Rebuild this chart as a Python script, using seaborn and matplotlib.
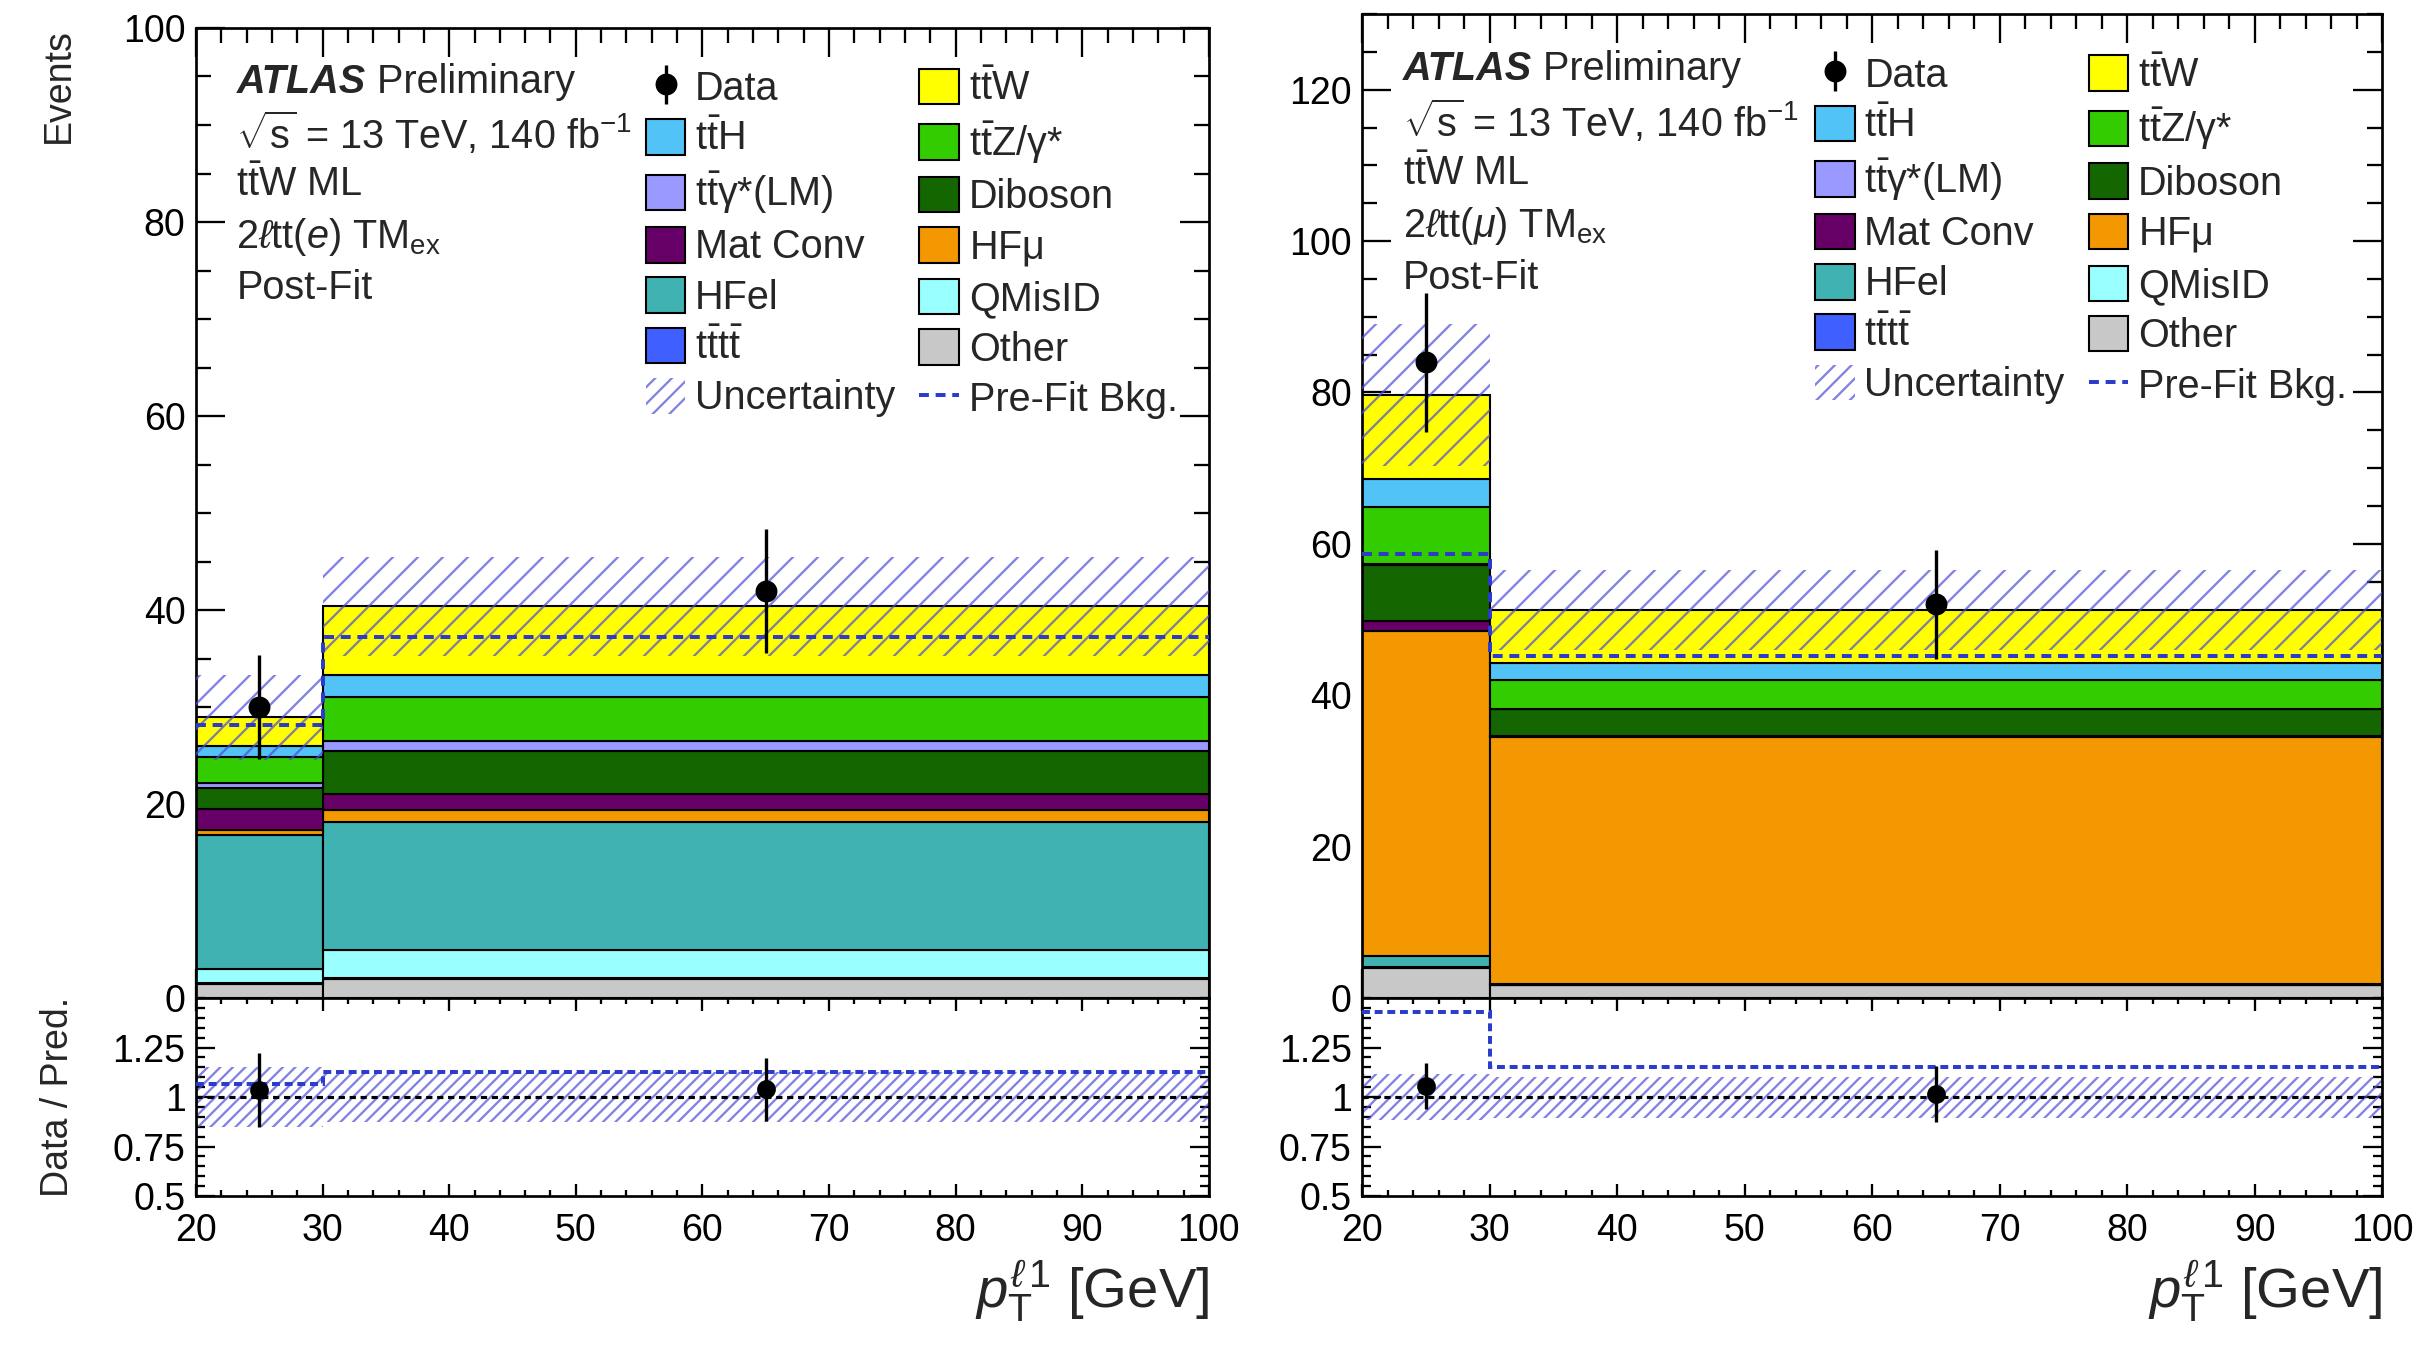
import matplotlib
matplotlib.use("Agg")
import matplotlib.pyplot as plt
from matplotlib.lines import Line2D
from matplotlib.patches import Patch
from matplotlib.ticker import MultipleLocator
import numpy as np
import pandas as pd
import seaborn as sns

BIN_EDGES = [20, 30, 100]
BIN_CENTRES = [25, 65]

# stack order, top of the stack first
SAMPLES = ["ttW", "ttH", "ttZ", "ttgam", "Diboson", "MatConv",
           "HFmu", "HFel", "QMisID", "tttt", "Other"]

# 2l tt(e) region, post-fit yields per bin
E_TTW = [3.0, 7.1]
E_TTH = [1.1, 2.3]
E_TTZ = [2.7, 4.5]
E_TTGAM = [0.5, 1.0]
E_DIBOSON = [2.2, 4.5]
E_MATCONV = [2.1, 1.6]
E_HFMU = [0.5, 1.3]
E_HFEL = [13.9, 13.1]
E_QMISID = [1.4, 2.9]
E_TTTT = [0.05, 0.1]
E_OTHER = [1.5, 2.0]
E_DATA = [30, 42]
E_DATA_ERR = [5.4, 6.4]
E_UNC = [4.4, 5.1]
E_PREFIT = [28.2, 37.2]

# 2l tt(mu) region
M_TTW = [11.1, 7.0]
M_TTH = [3.7, 2.2]
M_TTZ = [7.5, 3.8]
M_TTGAM = [0.1, 0.1]
M_DIBOSON = [7.5, 3.5]
M_MATCONV = [1.3, 0.1]
M_HFMU = [42.9, 32.7]
M_HFEL = [1.5, 0.1]
M_QMISID = [0.0, 0.0]
M_TTTT = [0.05, 0.05]
M_OTHER = [4.0, 1.7]
M_DATA = [84, 52]
M_DATA_ERR = [9.2, 7.2]
M_UNC = [9.4, 5.3]
M_PREFIT = [58.7, 45.2]

COLORS = {
    "ttW": "#ffff00", "ttH": "#52c3f7", "ttZ": "#33cc00", "ttgam": "#9999ff",
    "Diboson": "#136600", "MatConv": "#660066", "HFmu": "#f39800",
    "HFel": "#40b2b2", "QMisID": "#99ffff", "tttt": "#3f5fff", "Other": "#c8c8c8",
}
LABELS = {
    "ttW": r"$\mathrm{t\bar{t}W}$", "ttH": r"$\mathrm{t\bar{t}H}$",
    "ttZ": r"$\mathrm{t\bar{t}Z/\gamma}$*", "ttgam": r"$\mathrm{t\bar{t}\gamma}$*(LM)",
    "Diboson": "Diboson", "MatConv": "Mat Conv", "HFmu": r"HF$\mathrm{\mu}$",
    "HFel": "HFel", "QMisID": "QMisID", "tttt": r"$\mathrm{t\bar{t}t\bar{t}}$",
    "Other": "Other",
}
PREFIT_COLOR = "#2b3bcc"
HATCH_COLOR = (0.3, 0.3, 0.85, 0.7)

sns.set_theme(style="ticks")
plt.rcParams["font.family"] = ["Liberation Sans", "DejaVu Sans"]
plt.rcParams["mathtext.fontset"] = "custom"
plt.rcParams["mathtext.rm"] = "Liberation Sans"
plt.rcParams["mathtext.it"] = "Liberation Sans:italic"
plt.rcParams["mathtext.bf"] = "Liberation Sans:bold"
plt.rcParams["mathtext.sf"] = "Liberation Sans"
plt.rcParams["hatch.linewidth"] = 1.1
plt.rcParams["axes.linewidth"] = 1.3


def long_table(yields):
    rows = []
    for name in SAMPLES:
        for x, w in zip(BIN_CENTRES, yields[name]):
            rows.append({"pt": x, "events": w, "sample": name})
    return pd.DataFrame(rows)


def style_axis(ax, major_len, minor_len):
    ax.tick_params(which="both", direction="in", top=True, right=True,
                   width=1.1, labelsize=18, colors="black")
    ax.tick_params(which="major", length=major_len)
    ax.tick_params(which="minor", length=minor_len)
    for s in ax.spines.values():
        s.set_visible(True)
        s.set_color("black")


def draw_panel(ax, axr, yields, data, data_err, unc, prefit, ymax, channel):
    df = long_table(yields)
    sns.histplot(data=df, x="pt", weights="events", hue="sample",
                 hue_order=SAMPLES, palette=COLORS, bins=BIN_EDGES,
                 multiple="stack", element="bars", edgecolor="black",
                 linewidth=1.0, alpha=1, legend=False, ax=ax)

    total = np.sum([yields[s] for s in SAMPLES], axis=0)
    data = np.asarray(data, float)
    data_err = np.asarray(data_err, float)
    unc = np.asarray(unc, float)
    prefit = np.asarray(prefit, float)

    ax.stairs(total + unc, BIN_EDGES, baseline=total - unc, fill=True,
              facecolor="none", edgecolor=HATCH_COLOR, hatch="//", linewidth=0,
              zorder=3)
    ax.stairs(prefit, BIN_EDGES, baseline=None, color=PREFIT_COLOR,
              linewidth=1.9, linestyle=(0, (2.5, 1.7)), zorder=4)
    data_h = ax.errorbar(BIN_CENTRES, data, yerr=data_err, fmt="o", color="black",
                         ms=9.5, elinewidth=1.6, capsize=0, zorder=5)

    ax.set_xlim(20, 100)
    ax.set_ylim(0, ymax)
    ax.set_xlabel("")
    ax.set_ylabel("")
    ax.xaxis.set_major_locator(MultipleLocator(10))
    ax.xaxis.set_minor_locator(MultipleLocator(2))
    ax.yaxis.set_major_locator(MultipleLocator(20))
    ax.yaxis.set_minor_locator(MultipleLocator(5))
    style_axis(ax, 14, 7)
    ax.tick_params(labelbottom=False, pad=5)

    # text block
    atlas = ax.text(0.04, 0.944, "ATLAS", transform=ax.transAxes, fontsize=19,
                    fontweight="bold", fontstyle="italic", va="center")
    ax.annotate(" Preliminary", xy=(1, 0), xycoords=atlas, fontsize=19, va="bottom")
    lines = [r"$\sqrt{\mathrm{s}}$ = 13 TeV, 140 fb$^{-1}$",
             r"$\mathrm{t\bar{t}W}$ ML",
             r"2$\ell$tt(" + channel + r") TM$_{\mathrm{ex}}$",
             "Post-Fit"]
    for i, t in enumerate(lines):
        ax.text(0.04, 0.944 - 0.053 * (i + 1), t, transform=ax.transAxes,
                fontsize=19, va="center")

    # legend
    def box(name):
        return Patch(facecolor=COLORS[name], edgecolor="black", linewidth=1.0)
    col1 = [(data_h, "Data"), (box("ttH"), LABELS["ttH"]),
            (box("ttgam"), LABELS["ttgam"]), (box("MatConv"), LABELS["MatConv"]),
            (box("HFel"), LABELS["HFel"]), (box("tttt"), LABELS["tttt"]),
            (Patch(facecolor="none", edgecolor=HATCH_COLOR, hatch="///", linewidth=0),
             "Uncertainty")]
    col2 = [(box("ttW"), LABELS["ttW"]), (box("ttZ"), LABELS["ttZ"]),
            (box("Diboson"), LABELS["Diboson"]), (box("HFmu"), LABELS["HFmu"]),
            (box("QMisID"), LABELS["QMisID"]), (box("Other"), LABELS["Other"]),
            (Line2D([], [], color=PREFIT_COLOR, lw=1.9, ls=(0, (2.5, 1.7))),
             "Pre-Fit Bkg.")]
    entries = col1 + col2
    ax.legend([h for h, _ in entries], [l for _, l in entries], ncol=2,
              loc="upper left", bbox_to_anchor=(0.444, 0.958), frameon=False,
              fontsize=19, handlelength=1.0, handleheight=1.0,
              handletextpad=0.25, labelspacing=0.28, columnspacing=0.6,
              borderpad=0, borderaxespad=0)

    # ratio panel
    rel = unc / total
    axr.stairs(1 + rel, BIN_EDGES, baseline=1 - rel, fill=True, facecolor="none",
               edgecolor=HATCH_COLOR, hatch="////", linewidth=0, zorder=2)
    axr.axhline(1, color="black", lw=1.5, ls=(0, (2.0, 1.5)), zorder=3)
    axr.stairs(data / prefit, BIN_EDGES, baseline=None, color=PREFIT_COLOR,
               linewidth=1.9, linestyle=(0, (2.0, 1.2)), zorder=3)
    axr.errorbar(BIN_CENTRES, data / total, yerr=data_err / total, fmt="o",
                 color="black", ms=8, elinewidth=1.6, capsize=0, zorder=5)
    axr.set_xlim(20, 100)
    axr.set_ylim(0.5, 1.5)
    axr.set_yticks([0.5, 0.75, 1.0, 1.25], ["0.5", "0.75", "1", "1.25"])
    axr.yaxis.set_minor_locator(MultipleLocator(0.05))
    axr.xaxis.set_major_locator(MultipleLocator(10))
    axr.xaxis.set_minor_locator(MultipleLocator(2))
    style_axis(axr, 9, 4.5)
    axr.tick_params(axis="x", which="major", length=6, pad=8)
    axr.tick_params(axis="x", which="minor", length=3)
    axr.tick_params(axis="y", pad=5)
    axr.set_xlabel(r"$p_{\mathrm{T}}^{\ell\,1}$ [GeV]", fontsize=27, loc="right")


def yields_of(prefix):
    g = globals()
    return {s: g[f"{prefix}_{s.upper()}"] for s in SAMPLES}


fig = plt.figure(figsize=(2431 / 150, 1346 / 150), dpi=150)
ax_e = fig.add_axes([0.0806, 0.2585, 0.4167, 0.7207])
ax_er = fig.add_axes([0.0806, 0.1114, 0.4167, 0.1471])
ax_m = fig.add_axes([0.5603, 0.2585, 0.4196, 0.7311])
ax_mr = fig.add_axes([0.5603, 0.1114, 0.4196, 0.1471])

draw_panel(ax_e, ax_er, yields_of("E"), E_DATA, E_DATA_ERR, E_UNC, E_PREFIT,
           100, r"$e$")
draw_panel(ax_m, ax_mr, yields_of("M"), M_DATA, M_DATA_ERR, M_UNC, M_PREFIT,
           130, r"$\mu$")

ax_e.set_ylabel("Events", fontsize=18, loc="top")
ax_e.yaxis.set_label_coords(-0.118, 1.0)
ax_er.set_ylabel("Data / Pred.", fontsize=18)
ax_er.yaxis.set_label_coords(-0.118, 0.5)

fig.savefig("out.png", dpi=150, facecolor="white")
